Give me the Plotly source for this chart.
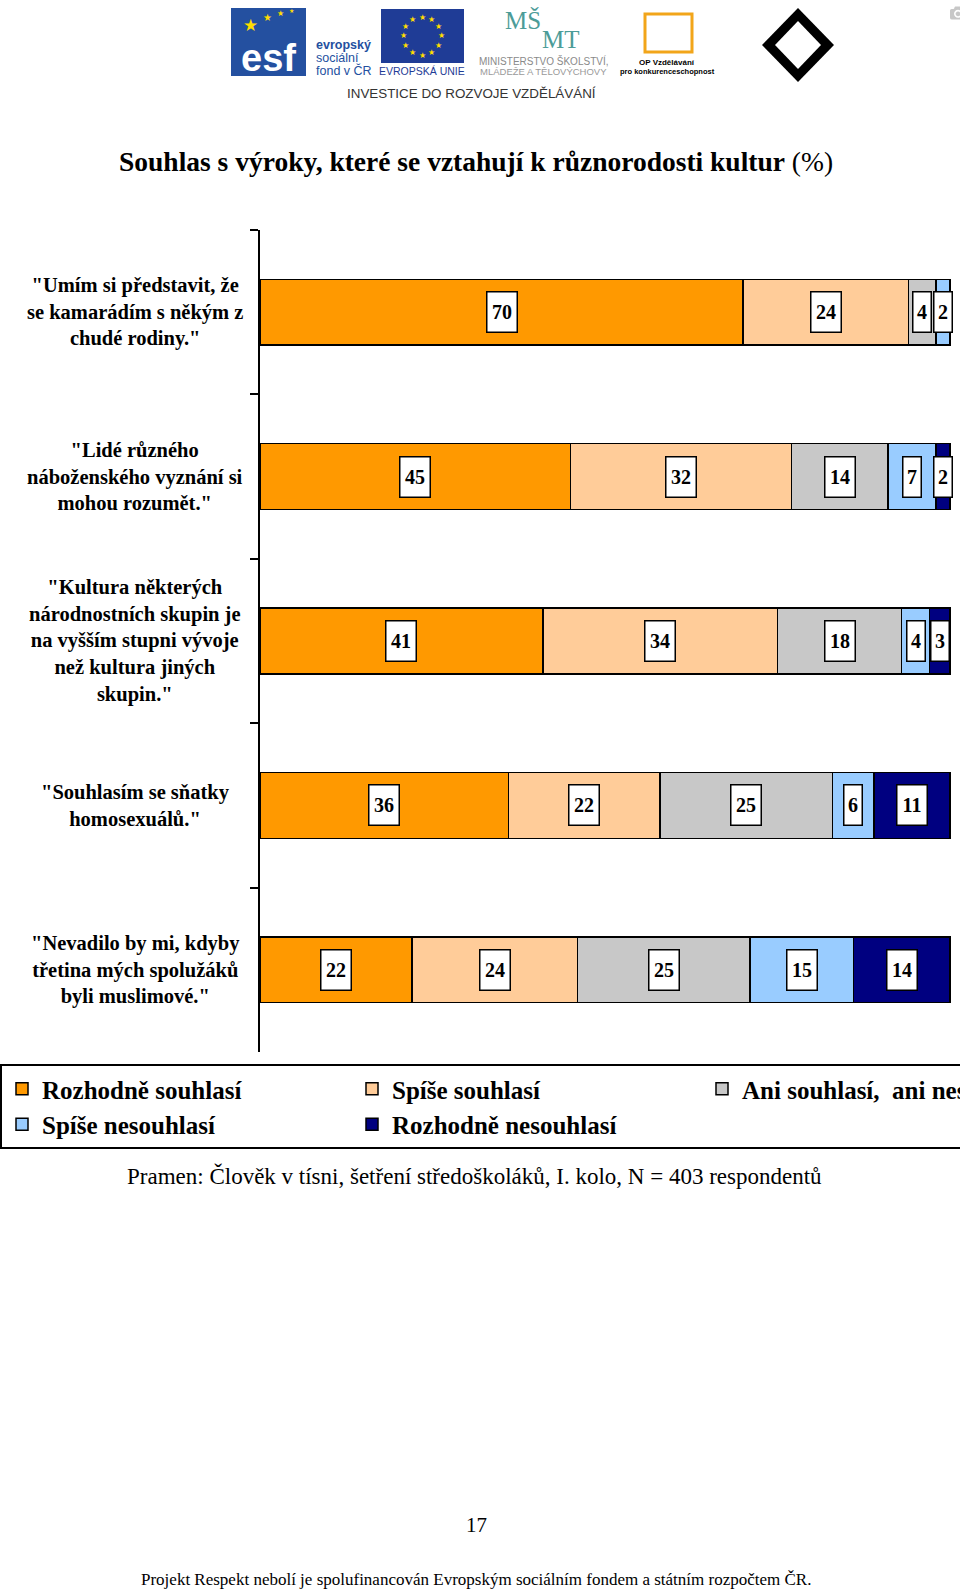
import math
import plotly.graph_objects as go

# ---------------- data ----------------
categories = [
    '"Umím si představit, že<br>se kamarádím s někým z<br>chudé rodiny."',
    '"Lidé různého<br>náboženského vyznání si<br>mohou rozumět."',
    '"Kultura některých<br>národnostních skupin je<br>na vyšším stupni vývoje<br>než kultura jiných<br>skupin."',
    '"Souhlasím se sňatky<br>homosexuálů."',
    '"Nevadilo by mi, kdyby<br>třetina mých spolužáků<br>byli muslimové."',
]
series_names = ["Rozhodně souhlasí", "Spíše souhlasí", "Ani souhlasí,  ani nesouhlasí",
                "Spíše nesouhlasí", "Rozhodně nesouhlasí"]
rozhodne_souhlasi = [70, 45, 41, 36, 22]
spise_souhlasi = [24, 32, 34, 22, 24]
ani_ani = [4, 14, 18, 25, 25]
spise_nesouhlasi = [2, 7, 4, 6, 15]
rozhodne_nesouhlasi = [0, 2, 3, 11, 14]
series_values = [rozhodne_souhlasi, spise_souhlasi, ani_ani, spise_nesouhlasi, rozhodne_nesouhlasi]
colors = ["#FF9900", "#FFCC99", "#C8C8C8", "#99CCFF", "#000080"]

title_text = "<b>Souhlas s výroky, které se vztahují k různorodosti kultur</b> (%)"
source_text = "Pramen: Člověk v tísni, šetření středoškoláků, I. kolo, N = 403 respondentů"
page_number = "17"
footer_text = "Projekt Respekt nebolí je spolufinancován Evropským sociálním fondem a státním rozpočtem ČR."

# ---------------- layout geometry ----------------
W, H = 1060, 1591
ML, MR, MT, MB = 260, 0, 230, 539
PW = W - ML - MR
PH = H - MT - MB
XMAX = 100 * PW / 690.0   # 100 % ends 690 px right of the axis


def px2x(px):
    return (px - ML) / PW


def py2y(py):
    return (H - MB - py) / PH


SERIF = "Liberation Serif, Times New Roman, serif"
SANS = "Liberation Sans, Arial, sans-serif"


def note(px, py, text, size, color="black", family=SERIF, xanchor="center"):
    return dict(x=px2x(px), y=py2y(py), xref="paper", yref="paper", text=text,
                showarrow=False, xanchor=xanchor, yanchor="middle", align="center",
                font=dict(family=family, size=size, color=color))


fig = go.Figure()
for name, vals, col in zip(series_names, series_values, colors):
    fig.add_trace(go.Bar(
        y=categories, x=vals, orientation="h", name=name,
        marker=dict(color=col, line=dict(color="black", width=1.5)),
        hoverinfo="x+name",
    ))

annotations = []
# value boxes
for ci, cat in enumerate(categories):
    cum = 0
    for vals in series_values:
        v = vals[ci]
        if v > 0:
            s = str(v)
            annotations.append(dict(
                x=cum + v / 2.0, y=cat, xref="x", yref="y", text="<b>%s</b>" % s,
                showarrow=False, xanchor="center", yanchor="middle",
                font=dict(family=SERIF, size=20, color="black"),
                bgcolor="white", bordercolor="black", borderwidth=1.5, borderpad=1,
                width=12 * len(s) + 3, height=37, align="center", valign="middle",
            ))
        cum += v
# category labels (centered multi-line)
for cat in categories:
    annotations.append(dict(
        x=px2x(135), y=cat, xref="paper", yref="y", text="<b>%s</b>" % cat,
        showarrow=False, xanchor="center", yanchor="middle", align="center",
        font=dict(family=SERIF, size=20.5, color="black"),
    ))
# title, source, page number, footer
annotations += [
    note(476, 161, title_text, 27.5),
    note(474, 1176, source_text, 23),
    note(476, 1525, page_number, 21),
    note(476, 1579, footer_text, 17),
]

# ---------------- header logos (simplified) ----------------
shapes = []
ESF_BLUE = "#2450A0"
EU_BLUE = "#1F3C96"
YEL = "#FFDD00"
# ESF
shapes.append(dict(type="rect", xref="paper", yref="paper",
                   x0=px2x(231), x1=px2x(306), y0=py2y(76), y1=py2y(8),
                   fillcolor=ESF_BLUE, line=dict(width=0), layer="below"))
annotations.append(note(268, 58, "<b>esf</b>", 38, "white", SANS))
annotations.append(note(250, 25, "★", 17, YEL, "DejaVu Sans"))
annotations.append(note(267, 17, "★", 10, YEL, "DejaVu Sans"))
annotations.append(note(280, 13, "★", 8, YEL, "DejaVu Sans"))
annotations.append(note(291, 11, "★", 6, YEL, "DejaVu Sans"))
for i, t in enumerate(["<b>evropský</b>", "sociální", "fond v ČR"]):
    annotations.append(note(314, 45 + 12.5 * i, t, 12.5, ESF_BLUE, SANS, xanchor="left"))
# EU flag
shapes.append(dict(type="rect", xref="paper", yref="paper",
                   x0=px2x(381), x1=px2x(464), y0=py2y(63), y1=py2y(9),
                   fillcolor=EU_BLUE, line=dict(width=0), layer="below"))
for k in range(12):
    ang = 2 * math.pi * k / 12
    annotations.append(note(422 + 19 * math.cos(ang), 36 + 19 * math.sin(ang), "★", 8, YEL, "DejaVu Sans"))
annotations.append(note(422, 71, "EVROPSKÁ UNIE", 10.5, EU_BLUE, SANS))
# MSMT
annotations.append(note(523, 20, "MŠ", 25, "#4C9C98"))
annotations.append(note(561, 40, "MT", 25, "#4C9C98"))
annotations.append(note(543, 61, "MINISTERSTVO ŠKOLSTVÍ,", 10, "#8A8A8A", SANS))
annotations.append(note(543, 71, "MLÁDEŽE A TĚLOVÝCHOVY", 9.5, "#9A9A9A", SANS))
# OP
shapes.append(dict(type="rect", xref="paper", yref="paper",
                   x0=px2x(645), x1=px2x(692), y0=py2y(52), y1=py2y(14),
                   fillcolor="rgba(0,0,0,0)", line=dict(width=3, color="#F2A51A"), layer="below"))
annotations.append(note(667, 62, "<b>OP Vzdělávání</b>", 8, "black", SANS))
annotations.append(note(667, 72, "<b>pro konkurenceschopnost</b>", 7.5, "black", SANS))
# Clovek v tisni
shapes.append(dict(type="path", xref="paper", yref="paper",
                   path="M %f,%f L %f,%f L %f,%f L %f,%f Z" % (
                       px2x(798), py2y(8), px2x(834), py2y(45), px2x(798), py2y(82), px2x(762), py2y(45)),
                   fillcolor="black", line=dict(width=0), layer="below"))
shapes.append(dict(type="path", xref="paper", yref="paper",
                   path="M %f,%f L %f,%f L %f,%f L %f,%f Z" % (
                       px2x(798), py2y(21), px2x(821), py2y(45), px2x(798), py2y(69), px2x(775), py2y(45)),
                   fillcolor="white", line=dict(width=0), layer="below"))
annotations.append(note(471, 94, "INVESTICE DO ROZVOJE VZDĚLÁVÁNÍ", 13.4, "#333333", SANS))

fig.update_layout(
    width=W, height=H,
    margin=dict(l=ML, r=MR, t=MT, b=MB, autoexpand=False),
    barmode="stack", bargap=0.6,
    paper_bgcolor="white", plot_bgcolor="white",
    font=dict(family=SERIF, color="black"),
    xaxis=dict(range=[0, XMAX], visible=False, fixedrange=True),
    yaxis=dict(type="category", autorange="reversed", showline=True, linecolor="black",
               linewidth=2, ticks="outside", tickson="boundaries", ticklen=8, tickwidth=2,
               tickcolor="black", showticklabels=False, showgrid=False, fixedrange=True),
    showlegend=True,
    legend=dict(orientation="h", x=px2x(0), xanchor="left", y=py2y(1064), yanchor="top",
                bordercolor="black", borderwidth=2, bgcolor="white",
                font=dict(family=SERIF, size=25, color="black", weight="bold"),
                entrywidth=305, entrywidthmode="pixels", traceorder="normal",
                itemclick=False, itemdoubleclick=False),
    annotations=annotations,
    shapes=shapes,
)

fig.write_html("out.html", post_script=(
    "document.documentElement.style.overflow='hidden';"
    "document.body.style.margin='0';document.body.style.overflow='hidden';"))
